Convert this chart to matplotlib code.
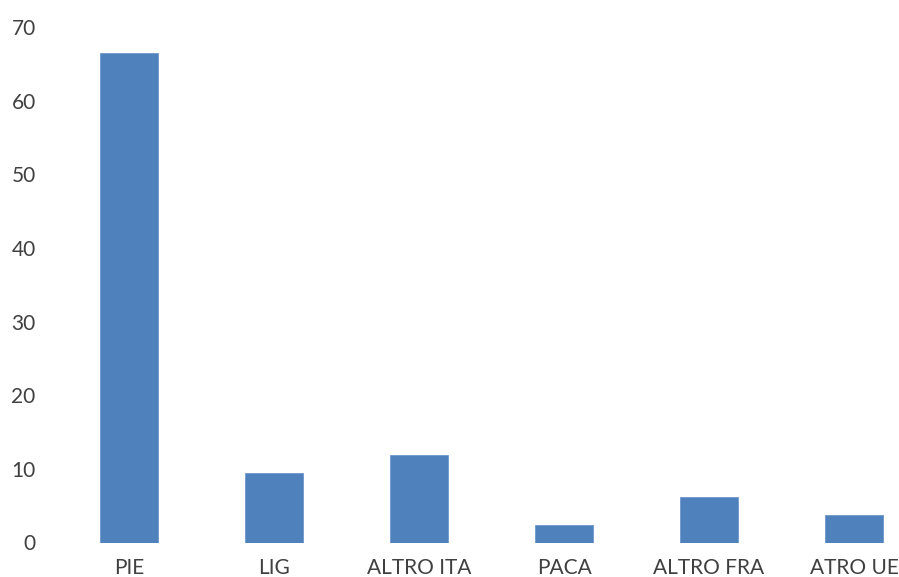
import matplotlib.pyplot as plt

# data
categories = ['PIE', 'LIG', 'ALTRO ITA', 'PACA', 'ALTRO FRA', 'ATRO UE']
values = [66.5, 9.5, 11.9, 2.4, 6.2, 3.7]
y_ticks = [0, 10, 20, 30, 40, 50, 60, 70]

plt.rcParams['font.family'] = ['Lato', 'DejaVu Sans']

fig = plt.figure(figsize=(8.99, 5.77), dpi=100)
ax = fig.add_axes([56.5 / 899, 34.5 / 577, (899 - 56.5) / 899, 515.5 / 577])

x = range(len(categories))
ax.bar(x, values, width=0.4, color='#4F81BD', edgecolor='#6F97CC', linewidth=0.6)

ax.set_xlim(-0.5, 5.31)
ax.set_ylim(0, 70)
ax.set_yticks(y_ticks)
ax.set_xticks(list(x))
ax.set_xticklabels(categories)

ax.tick_params(axis='y', length=0, pad=15, labelsize=15, labelcolor='#404040')
ax.tick_params(axis='x', length=0, pad=11, labelsize=15, labelcolor='#404040')

for s in ax.spines.values():
    s.set_visible(False)

fig.savefig('out.png', dpi=100)
